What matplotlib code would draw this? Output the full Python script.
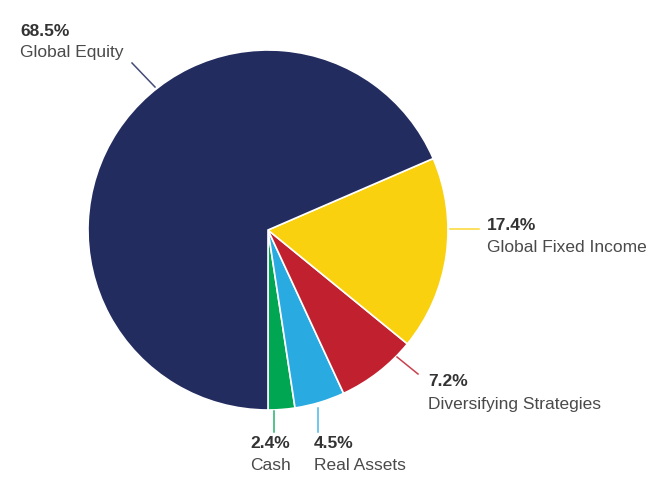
import matplotlib.pyplot as plt
import numpy as np

# asset allocation, counter-clockwise from 6 o'clock
categories = ["Cash", "Real Assets", "Diversifying Strategies",
              "Global Fixed Income", "Global Equity"]
shares = [2.4, 4.5, 7.2, 17.4, 68.5]
colors = ["#00A651", "#29ABE2", "#C1202F", "#F9D10F", "#232C5F"]

# label layout in pixel coords: (text x, text y, leader start, leader end)
label_pos = {
    "Global Equity": (20, 31, (155, 87), (132, 63)),
    "Global Fixed Income": (487, 225, (450, 229), (479, 229)),
    "Diversifying Strategies": (428, 382, (397, 357), (418, 374)),
    "Cash": (250, 444, (274, 411), (274, 432)),
    "Real Assets": (314, 444, (318, 408), (318, 432)),
}

plt.rcParams['font.family'] = ['Liberation Sans', 'DejaVu Sans']

fig = plt.figure(figsize=(6.7, 5), dpi=100)
ax = fig.add_axes([0, 0, 1, 1])

# y axis is inverted (pixel coords), so angles run mirrored:
# startangle=90 clockwise here shows as 6 o'clock counter-clockwise
ax.pie(shares, colors=colors, startangle=90, counterclock=False,
       center=(268, 230), radius=180, frame=True,
       wedgeprops=dict(edgecolor='white', linewidth=1.2))
ax.set_xlim(0, 670)
ax.set_ylim(500, 0)
ax.set_aspect('equal')
ax.axis('off')

for name, val, col in zip(categories, shares, colors):
    tx, ty, p0, p1 = label_pos[name]
    ax.plot([p0[0], p1[0]], [p0[1], p1[1]], color=col, linewidth=1.1,
            alpha=0.85)
    ax.text(tx, ty, f"{val}%", fontsize=12.5, fontweight='bold',
            color='#333333', va='center', ha='left')
    ax.text(tx, ty + 22, name, fontsize=12.5, color='#4a4a4a',
            va='center', ha='left')

fig.savefig("out.png", dpi=100)
